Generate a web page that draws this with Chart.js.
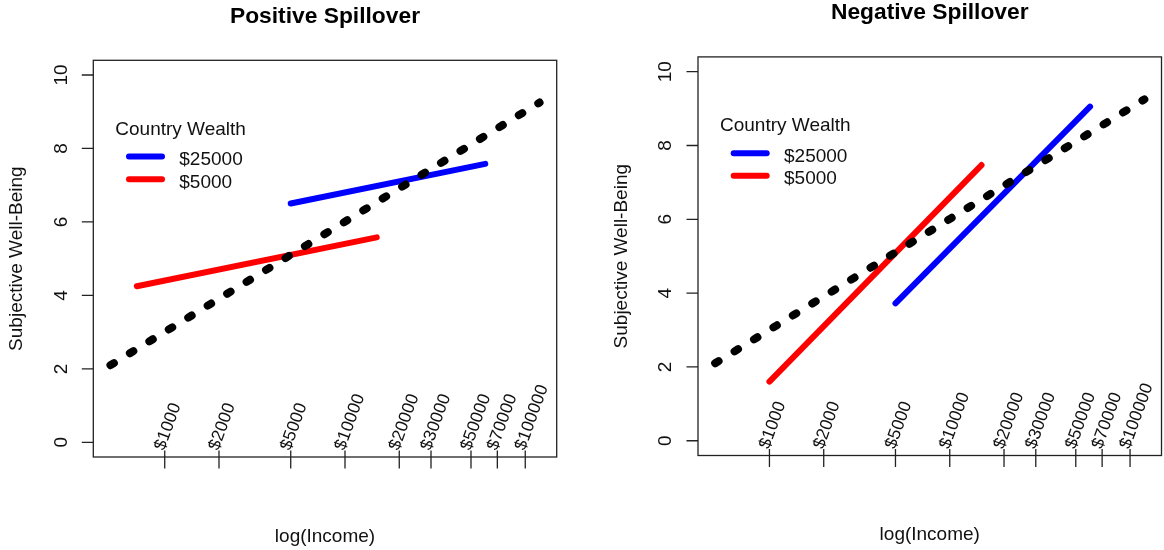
<!DOCTYPE html>
<html>
<head>
<meta charset="utf-8">
<script src="https://cdn.jsdelivr.net/npm/chart.js@4.4.1/dist/chart.umd.min.js"></script>
<style>
  html, body { margin: 0; padding: 0; background: #ffffff; }
  #wrap { position: relative; width: 1164px; height: 550px; overflow: hidden; }
  #wrap canvas { position: absolute; top: 0; }
</style>
</head>
<body>
<div id="wrap">
  <canvas id="posChart" width="582" height="550" style="left:0px"></canvas>
  <canvas id="negChart" width="582" height="550" style="left:582px"></canvas>
</div>
<script>
// ---- Axes -------------------------------------------------------------
const incomeTicks = [1000, 2000, 5000, 10000, 20000, 30000, 50000, 70000, 100000];
const incomeTickLabels = ['$1000', '$2000', '$5000', '$10000', '$20000', '$30000', '$50000', '$70000', '$100000'];
const incomeRange = [500, 120000];          // data range of income, in dollars
const wellBeingTicks = [0, 2, 4, 6, 8, 10];
const wellBeingRange = [0, 10];

// ---- Overall income / well-being relationship (dotted) ---------------
const overallIncome = [500, 120000];
const overallSWB = [2.1, 9.25];

// ---- Positive spillover ------------------------------------------------
const posRichIncome = [5000, 60000];
const posRichSWB = [6.5, 7.58];
const posPoorIncome = [700, 15000];
const posPoorSWB = [4.25, 5.58];

// ---- Negative spillover ------------------------------------------------
const negRichIncome = [5000, 60000];
const negRichSWB = [3.72, 9.05];
const negPoorIncome = [1000, 15000];
const negPoorSWB = [1.6, 7.47];

// ---- Legend ------------------------------------------------------------
const legendTitle = 'Country Wealth';
const wealthLabels = ['$25000', '$5000'];
const wealthColors = ['#0000ff', '#ff0000'];

const FONT = '"Liberation Sans", Arial, Helvetica, sans-serif';

// R-style 4% padding around the data range
function padRange(lo, hi, logScale) {
  if (logScale) {
    const a = Math.log(lo), b = Math.log(hi), d = (b - a) * 0.04;
    return [Math.exp(a - d), Math.exp(b + d)];
  }
  const d = (hi - lo) * 0.04;
  return [lo - d, hi + d];
}
const xLim = padRange(incomeRange[0], incomeRange[1], true);
const yLim = padRange(wellBeingRange[0], wellBeingRange[1], false);

function pts(xs, ys) { return xs.map((v, i) => ({ x: v, y: ys[i] })); }

// Box, axes, rotated income labels, titles and legend in base-graphics style
const basePlot = {
  id: 'basePlot',
  afterDraw(chart, args, opts) {
    const { ctx, chartArea: a } = chart;
    const xs = chart.scales.x, ys = chart.scales.y;
    ctx.save();
    ctx.fillStyle = '#111';
    ctx.strokeStyle = '#222';
    ctx.lineWidth = 1.3;

    // plot box
    ctx.strokeRect(a.left, a.top, a.right - a.left, a.bottom - a.top);

    // y axis ticks and labels
    ctx.beginPath();
    wellBeingTicks.forEach(v => {
      const py = ys.getPixelForValue(v);
      ctx.moveTo(a.left - 11.5, py);
      ctx.lineTo(a.left, py);
    });
    ctx.stroke();
    ctx.font = '19px ' + FONT;
    ctx.textAlign = 'center';
    ctx.textBaseline = 'alphabetic';
    wellBeingTicks.forEach(v => {
      const py = ys.getPixelForValue(v);
      ctx.save();
      ctx.translate(a.left - 26.6, py);
      ctx.rotate(-Math.PI / 2);
      ctx.fillText(String(v), 0, 0);
      ctx.restore();
    });

    // x axis ticks and slanted dollar labels
    ctx.beginPath();
    incomeTicks.forEach(v => {
      const px = xs.getPixelForValue(v);
      ctx.moveTo(px, a.bottom - 6.5);
      ctx.lineTo(px, a.bottom + 11.5);
    });
    ctx.stroke();
    ctx.font = '17.5px ' + FONT;
    ctx.textAlign = 'left';
    ctx.textBaseline = 'middle';
    incomeTicks.forEach((v, i) => {
      const px = xs.getPixelForValue(v);
      ctx.save();
      ctx.translate(px - 5, a.bottom - 7.5);
      ctx.rotate(-70 * Math.PI / 180);
      ctx.fillText(incomeTickLabels[i], 0, 0);
      ctx.restore();
    });

    // titles
    const cx = (a.left + a.right) / 2;
    ctx.fillStyle = '#000';
    ctx.textAlign = 'center';
    ctx.textBaseline = 'alphabetic';
    ctx.font = 'bold 22.8px ' + FONT;
    ctx.fillText(opts.title, cx, a.top - 37.6);
    ctx.font = '19px ' + FONT;
    ctx.fillStyle = '#111';
    ctx.fillText(opts.xTitle, cx, a.bottom + 84.5);
    ctx.save();
    ctx.translate(a.left - 71, (a.top + a.bottom) / 2);
    ctx.rotate(-Math.PI / 2);
    ctx.fillText(opts.yTitle, 0, 0);
    ctx.restore();

    // legend
    ctx.textAlign = 'left';
    ctx.fillText(legendTitle, a.left + 22, a.top + 74.3);
    ctx.lineCap = 'round';
    wealthLabels.forEach((lab, i) => {
      const ly = a.top + 96.3 + i * 22.6;
      ctx.strokeStyle = wealthColors[i];
      ctx.lineWidth = 6;
      ctx.beginPath();
      ctx.moveTo(a.left + 35.7, ly);
      ctx.lineTo(a.left + 68.7, ly);
      ctx.stroke();
      ctx.fillText(lab, a.left + 86, ly + 8.3);
    });
    ctx.restore();
  }
};

function makeChart(id, rich, poor, title, pad) {
  return new Chart(document.getElementById(id), {
    type: 'line',
    data: {
      datasets: [
        {
          label: 'Overall',
          data: pts(overallIncome, overallSWB),
          borderColor: '#000000',
          borderWidth: 8,
          borderDash: [4, 18.8],
          borderCapStyle: 'round',
          borderJoinStyle: 'round'
        },
        {
          label: wealthLabels[0],
          data: rich,
          borderColor: wealthColors[0],
          borderWidth: 6,
          borderCapStyle: 'round'
        },
        {
          label: wealthLabels[1],
          data: poor,
          borderColor: wealthColors[1],
          borderWidth: 6,
          borderCapStyle: 'round'
        }
      ]
    },
    options: {
      responsive: false,
      animation: false,
      devicePixelRatio: 1,
      parsing: true,
      layout: { padding: pad },
      elements: { point: { radius: 0, hoverRadius: 0 }, line: { tension: 0, fill: false } },
      plugins: {
        legend: { display: false },
        tooltip: { enabled: false },
        title: { display: false },
        basePlot: { title: title, xTitle: 'log(Income)', yTitle: 'Subjective Well-Being' }
      },
      events: [],
      scales: {
        x: { type: 'logarithmic', min: xLim[0], max: xLim[1], bounds: 'data', display: false },
        y: { type: 'linear', min: yLim[0], max: yLim[1], bounds: 'data', display: false }
      }
    },
    plugins: [basePlot]
  });
}

makeChart('posChart', pts(posRichIncome, posRichSWB), pts(posPoorIncome, posPoorSWB),
  'Positive Spillover', { left: 93.3, top: 60.3, right: 25.3, bottom: 93 });
makeChart('negChart', pts(negRichIncome, negRichSWB), pts(negPoorIncome, negPoorSWB),
  'Negative Spillover', { left: 116, top: 56.9, right: 2.5, bottom: 94.5 });
</script>
</body>
</html>
